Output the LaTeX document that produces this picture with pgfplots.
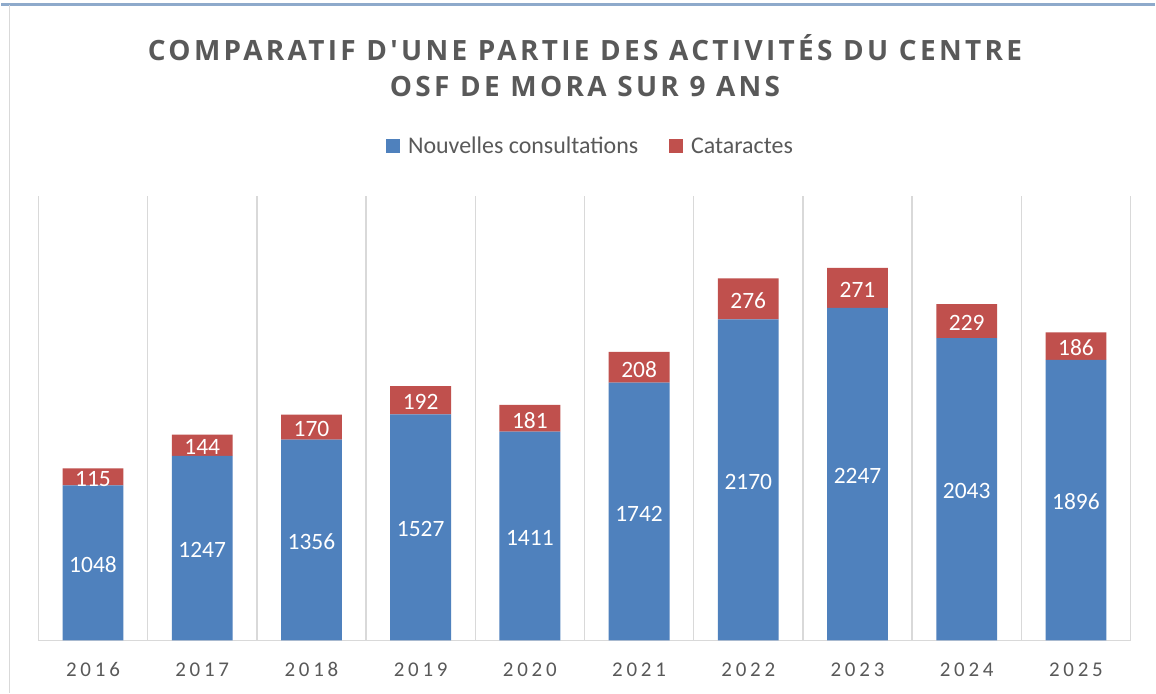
\documentclass[border=0pt]{standalone}
\usepackage{pgfplots}
\usepackage{pgfplotstable}
\pgfplotsset{compat=1.18}
\usepackage{fontspec}
\setmainfont{Carlito}
\newfontfamily\titlefont[LetterSpace=12]{Open Sans}
\newfontfamily\tickfont[LetterSpace=18]{Carlito}
\definecolor{cblue}{HTML}{4F81BD}
\definecolor{cred}{HTML}{C0504D}
\definecolor{txtgray}{HTML}{595959}
\definecolor{gridgray}{HTML}{D9D9D9}
\definecolor{topline}{HTML}{8EAACB}
\pgfplotstableread{
x a b
0 1048 115
1 1247 144
2 1356 170
3 1527 192
4 1411 181
5 1742 208
6 2170 276
7 2247 271
8 2043 229
9 1896 186
}\datatable
\begin{document}
\begin{tikzpicture}[x=1pt,y=1pt]
\fill[white] (0,0) rectangle (1156,695);
\draw[topline,line width=3pt] (0,690) -- (1156,690);
\draw[gridgray,line width=1.5pt] (8,690) -- (8,0);
\node[font=\titlefont\bfseries\fontsize{28}{32}\selectfont, text=txtgray] at (585,647) {COMPARATIF D'UNE PARTIE DES ACTIVITÉS DU CENTRE};
\node[font=\titlefont\bfseries\fontsize{28}{32}\selectfont, text=txtgray] at (585,608) {OSF DE MORA SUR 9 ANS};
\begin{axis}[
  at={(37pt,53pt)}, anchor=south west,
  scale only axis, width=1095pt, height=445pt,
  ybar stacked, bar width=61pt,
  xmin=-0.5, xmax=9.5, ymin=0, ymax=3000,
  axis y line=none,
  axis x line*=bottom,
  x axis line style={gridgray, line width=1.5pt, -},
  xtick={0,...,9},
  xticklabels={2016,2017,2018,2019,2020,2021,2022,2023,2024,2025},
  major tick length=0pt, minor tick length=0pt,
  minor xtick={-0.5,0.5,...,9.5},
  xminorgrids, minor grid style={gridgray, line width=1.5pt},
  xticklabel style={font=\tickfont\fontsize{21}{24}\selectfont, text=txtgray, anchor=base, yshift=-36pt, text depth=0pt},
  /pgf/number format/assume math mode=true,
  legend columns=2,
  legend style={at={(0.5055,1.113)}, anchor=center, draw=none, fill=none,
    font=\fontsize{24}{27}\selectfont, text=txtgray,
    /tikz/every odd column/.append style={column sep=6pt},
    /tikz/every even column/.append style={column sep=29pt}},
  legend image code/.code={\fill[#1] (0pt,-7pt) rectangle (14pt,7pt);},
  clip=false,
]
\addplot[fill=cblue, draw=none] table[x=x, y=a] {\datatable};
\addlegendentry{Nouvelles consultations}
\addplot[fill=cred, draw=none] table[x=x, y=b] {\datatable};
\addlegendentry{Cataractes}
\end{axis}
\begin{axis}[
  at={(37pt,53pt)}, anchor=south west,
  scale only axis, width=1095pt, height=445pt,
  xmin=-0.5, xmax=9.5, ymin=0, ymax=3000,
  hide axis, clip=false,
  nodes near coords, point meta=explicit symbolic,
  every node near coord/.append style={anchor=center, text=white, font=\fontsize{23.5}{26}\selectfont, yshift=-2pt},
]
\addplot[draw=none] table[x=x, y expr=\thisrow{a}/2, meta=a] {\datatable};
\addplot[draw=none] table[x=x, y expr=\thisrow{a}+\thisrow{b}/2, meta=b] {\datatable};
\end{axis}
\end{tikzpicture}
\end{document}
